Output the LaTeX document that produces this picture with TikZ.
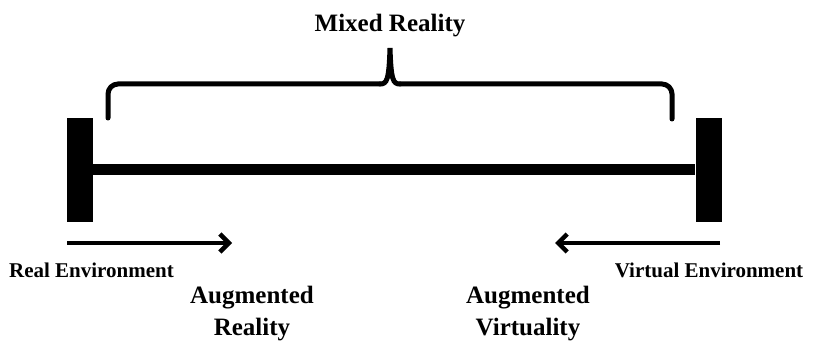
\documentclass[tikz,border=0pt]{standalone}
\usepackage{fontspec}
\setmainfont{Liberation Serif}
\usetikzlibrary{arrows.meta}
\begin{document}
\begin{tikzpicture}[x=1pt,y=-1pt,
    endbar/.style={rectangle, fill=black, inner sep=0pt, minimum width=26pt, minimum height=104pt},
    envtext/.style={anchor=base, font=\fontsize{21}{24}\selectfont\bfseries},
    augtext/.style={anchor=north, align=center, font=\fontsize{25}{32}\selectfont\bfseries},
    towards/.style={line width=4.5pt, -{Straight Barb[length=9pt,width=18pt]}}]
  \useasboundingbox (0,0) rectangle (815,342);

  \node[endbar] (bReal) at (80,170) {};
  \node[endbar] (bVirt) at (708.5,170) {};
  \draw[line width=11pt] (bReal) -- (bVirt);

  % brace over the middle part
  \draw[line width=5pt, line cap=round, rounded corners=10pt]
    (108,118) -- (108,84) -- (380,84);
  \draw[line width=5pt, line cap=round]
    (380,84) .. controls (387,84) and (389,80) .. (390,48)
    .. controls (391,80) and (393,84) .. (400,84);
  \draw[line width=5pt, line cap=round, rounded corners=10pt]
    (400,84) -- (672,84) -- (672,119);
  \node[anchor=base, font=\fontsize{25}{28}\selectfont\bfseries] (mixed) at (390,32) {Mixed Reality};

  \coordinate (arStart) at (67,243);
  \coordinate (arEnd) at (232,243);
  \coordinate (avStart) at (720,243);
  \coordinate (avEnd) at (555,243);
  \draw[towards] (arStart) -- (arEnd);
  \draw[towards] (avStart) -- (avEnd);

  \node[envtext] (real) at (91.5,277) {Real Environment};
  \node[envtext] (virt) at (709,277) {Virtual Environment};

  \node[augtext] (aug) at (252,283) {Augmented\\Reality};
  \node[augtext] (augv) at (528,283) {Augmented\\Virtuality};
\end{tikzpicture}
\end{document}
